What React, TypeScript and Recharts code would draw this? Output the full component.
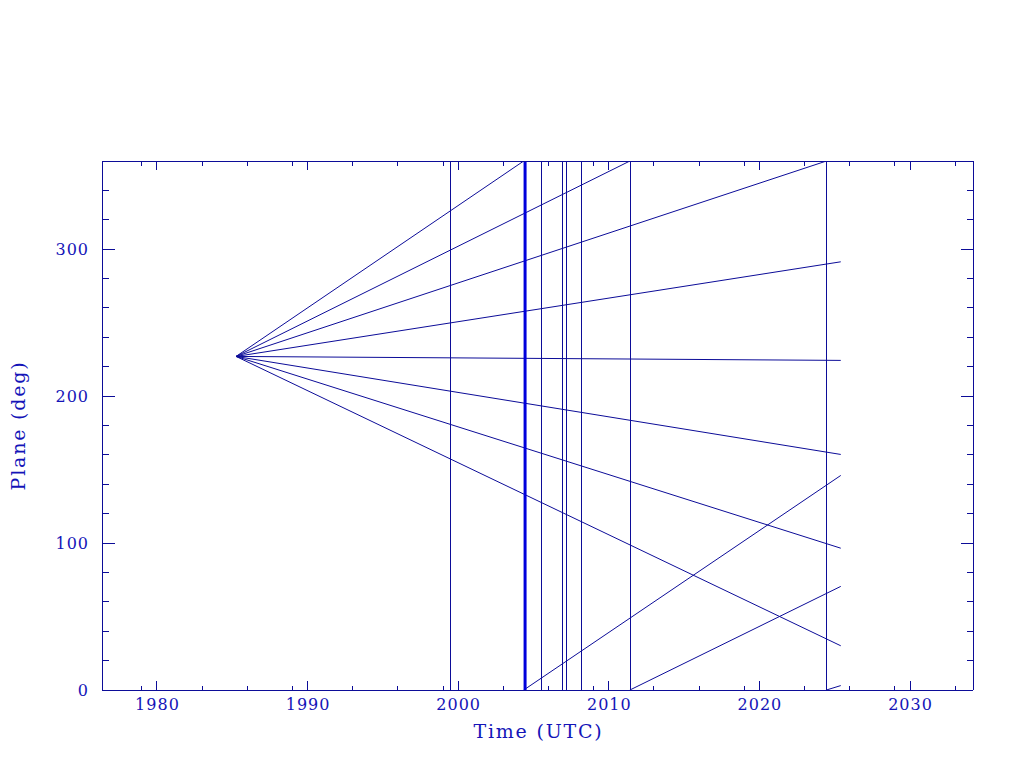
import React from 'react';
import { LineChart, Line, XAxis, YAxis, ReferenceLine } from 'recharts';

// ---- axis ranges and ticks ----
const xDomain: [number, number] = [1976.35, 2034.18];
const yDomain: [number, number] = [0, 360];
const xMajorTicks = [1980, 1990, 2000, 2010, 2020, 2030];
const xMinorTicks = [1979, 1983, 1986, 1989, 1993, 1996, 1999, 2003, 2006, 2009, 2013, 2016, 2019, 2023, 2026, 2029, 2033];
const yMajorTicks = [0, 100, 200, 300];
const yMinorTicks = [20, 40, 60, 80, 120, 140, 160, 180, 220, 240, 260, 280, 320, 340, 360];

// ---- vertical event markers (years) ----
const eventYears = [1999.46, 2005.5, 2006.92, 2007.22, 2008.18, 2011.47, 2024.42];
const mainEventYear = 2004.44;

// ---- plane tracks (year, plane deg); null = wrap break ----
type Pt = { year: number; plane: number | null };
const track1: Pt[] = [
  { year: 1985.25, plane: 227 },
  { year: 2004.35, plane: 360 },
  { year: 2004.35, plane: null },
  { year: 2004.35, plane: 0 },
  { year: 2025.4, plane: 146 },
];
const track2: Pt[] = [
  { year: 1985.25, plane: 227 },
  { year: 2011.4, plane: 360 },
  { year: 2011.4, plane: null },
  { year: 2011.4, plane: 0 },
  { year: 2025.4, plane: 70.5 },
];
const track3: Pt[] = [
  { year: 1985.25, plane: 227 },
  { year: 2024.45, plane: 360 },
  { year: 2024.45, plane: null },
  { year: 2024.45, plane: 0 },
  { year: 2025.4, plane: 3 },
];
const track4: Pt[] = [
  { year: 1985.25, plane: 227 },
  { year: 2025.4, plane: 291.4 },
];
const track5: Pt[] = [
  { year: 1985.25, plane: 227 },
  { year: 2025.4, plane: 224.3 },
];
const track6: Pt[] = [
  { year: 1985.25, plane: 227 },
  { year: 2025.4, plane: 160.3 },
];
const track7: Pt[] = [
  { year: 1985.25, plane: 227 },
  { year: 2025.4, plane: 96.5 },
];
const track8: Pt[] = [
  { year: 1985.25, plane: 227 },
  { year: 2025.4, plane: 30.1 },
];
const tracks = [track1, track2, track3, track4, track5, track6, track7, track8];

// ---- styles ----
const LINE_COLOR = '#0c0c98';
const TEXT_COLOR = '#1414b8';
const MAIN_COLOR = '#0000dc';
const FONT = '"DejaVu Serif", serif';
const TICK_FONT_SIZE = 16;
const TICK_SPACING = 1;
const TITLE_FONT_SIZE = 19;
const TITLE_SPACING = 1.8;

const xTicks = [...xMajorTicks, ...xMinorTicks].sort((a, b) => a - b);
const yTicks = [...yMajorTicks, ...yMinorTicks].sort((a, b) => a - b);

const BottomTick = (props: any) => {
  const { x, y, payload } = props;
  const v = payload.value;
  const major = xMajorTicks.includes(v);
  const len = major ? 9 : 4.5;
  return (
    <g>
      <line x1={x} x2={x} y1={y} y2={y - len} stroke={LINE_COLOR} strokeWidth={1} shapeRendering="crispEdges" />
      {major && (
        <text x={x + TICK_SPACING / 2} y={y + 20} textAnchor="middle" fill={TEXT_COLOR} fontFamily={FONT} fontSize={TICK_FONT_SIZE} letterSpacing={TICK_SPACING}>
          {v}
        </text>
      )}
    </g>
  );
};

const TopTick = (props: any) => {
  const { x, y, payload } = props;
  const major = xMajorTicks.includes(payload.value);
  const len = major ? 9 : 4.5;
  return <line x1={x} x2={x} y1={y} y2={y + len} stroke={LINE_COLOR} strokeWidth={1} shapeRendering="crispEdges" />;
};

const LeftTick = (props: any) => {
  const { x, y, payload } = props;
  const v = payload.value;
  const major = yMajorTicks.includes(v);
  const len = major ? 12.5 : 6.5;
  return (
    <g>
      <line x1={x} x2={x + len} y1={y} y2={y} stroke={LINE_COLOR} strokeWidth={1} shapeRendering="crispEdges" />
      {major && (
        <text x={x - 13} y={y + 6} textAnchor="end" fill={TEXT_COLOR} fontFamily={FONT} fontSize={TICK_FONT_SIZE} letterSpacing={TICK_SPACING}>
          {v}
        </text>
      )}
    </g>
  );
};

const RightTick = (props: any) => {
  const { x, y, payload } = props;
  const major = yMajorTicks.includes(payload.value);
  const len = major ? 12.5 : 6.5;
  return <line x1={x} x2={x - len} y1={y} y2={y} stroke={LINE_COLOR} strokeWidth={1} shapeRendering="crispEdges" />;
};

const XTitle = (props: any) => {
  const vb = props.viewBox;
  return (
    <text x={vb.x + vb.width / 2 + 1} y={vb.y + 48} textAnchor="middle" fill={TEXT_COLOR} fontFamily={FONT} fontSize={TITLE_FONT_SIZE} letterSpacing={TITLE_SPACING}>
      Time (UTC)
    </text>
  );
};

const YTitle = (props: any) => {
  const vb = props.viewBox;
  const cx = vb.x + 13;
  const cy = vb.y + vb.height / 2;
  return (
    <text x={cx} y={cy} transform={`rotate(-90, ${cx}, ${cy})`} textAnchor="middle" fill={TEXT_COLOR} fontFamily={FONT} fontSize={TITLE_FONT_SIZE} letterSpacing={TITLE_SPACING}>
      Plane (deg)
    </text>
  );
};

export default function App() {
  return (
    <div style={{ width: 1008, height: 752 }}>
      <LineChart width={1008} height={752} margin={{ top: 143, right: 33, bottom: 30, left: 4 }}>
        <XAxis
          xAxisId="b"
          dataKey="year"
          type="number"
          domain={xDomain}
          allowDataOverflow
          ticks={xTicks}
          interval={0}
          tickSize={0}
          tickMargin={0}
          tickLine={false}
          tick={<BottomTick />}
          axisLine={{ stroke: LINE_COLOR, strokeWidth: 1, shapeRendering: 'crispEdges' }}
          height={40}
          orientation="bottom"
          label={{ content: <XTitle /> }}
        />
        <XAxis
          xAxisId="t"
          dataKey="year"
          type="number"
          domain={xDomain}
          allowDataOverflow
          ticks={xTicks}
          interval={0}
          tickSize={0}
          tickMargin={0}
          tickLine={false}
          tick={<TopTick />}
          axisLine={{ stroke: LINE_COLOR, strokeWidth: 1, shapeRendering: 'crispEdges' }}
          height={10}
          orientation="top"
        />
        <YAxis
          yAxisId="l"
          type="number"
          domain={yDomain}
          allowDataOverflow
          ticks={yTicks}
          interval={0}
          tickSize={0}
          tickMargin={0}
          tickLine={false}
          tick={<LeftTick />}
          axisLine={{ stroke: LINE_COLOR, strokeWidth: 1, shapeRendering: 'crispEdges' }}
          width={90}
          orientation="left"
          label={{ content: <YTitle /> }}
        />
        <YAxis
          yAxisId="r"
          type="number"
          domain={yDomain}
          allowDataOverflow
          ticks={yTicks}
          interval={0}
          tickSize={0}
          tickMargin={0}
          tickLine={false}
          tick={<RightTick />}
          axisLine={{ stroke: LINE_COLOR, strokeWidth: 1, shapeRendering: 'crispEdges' }}
          width={10}
          orientation="right"
        />
        {tracks.map((t, i) => (
          <Line
            key={i}
            data={t}
            xAxisId="b"
            yAxisId="l"
            dataKey="plane"
            stroke={LINE_COLOR}
            strokeWidth={1}
            dot={false}
            activeDot={false}
            connectNulls={false}
            isAnimationActive={false}
            type="linear"
          />
        ))}
        {eventYears.map((yr) => (
          <ReferenceLine key={yr} x={yr} xAxisId="b" yAxisId="l" stroke={LINE_COLOR} strokeWidth={1} shapeRendering="crispEdges" />
        ))}
        <ReferenceLine x={mainEventYear} xAxisId="b" yAxisId="l" stroke={MAIN_COLOR} strokeWidth={3} />
      </LineChart>
    </div>
  );
}
